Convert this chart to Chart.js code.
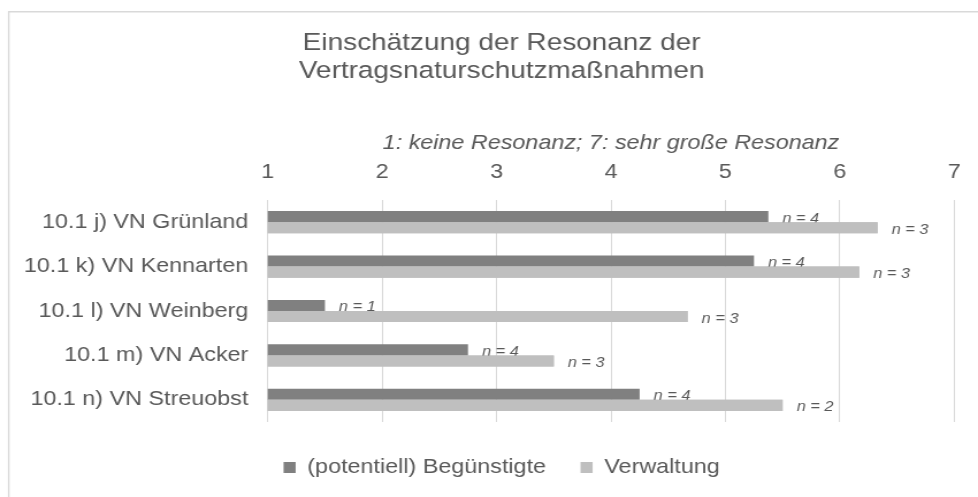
<!DOCTYPE html>
<html>
<head>
<meta charset="utf-8">
<script src="https://cdn.jsdelivr.net/npm/chart.js@4.4.1/dist/chart.umd.min.js"></script>
<style>
html, body { margin: 0; padding: 0; background: #ffffff; overflow: hidden; }
canvas { display: block; }
</style>
</head>
<body>
<!-- the original picture is horizontally stretched; the canvas is drawn narrower and shown at 978px -->
<canvas id="c" width="850" height="497" style="width:978px;height:497px;"></canvas>
<script>
// ---- data ----
const categories = [
  '10.1 j) VN Grünland',
  '10.1 k) VN Kennarten',
  '10.1 l) VN Weinberg',
  '10.1 m) VN Acker',
  '10.1 n) VN Streuobst'
];
const seriesNames = ['(potentiell) Begünstigte', 'Verwaltung'];
const beguenstigte = [5.375, 5.25, 1.5, 2.75, 4.25];
const verwaltung = [6.33, 6.17, 4.67, 3.5, 5.5];
const nBeguenstigte = [4, 4, 1, 4, 4];
const nVerwaltung = [3, 3, 3, 3, 2];
const xTicks = [1, 2, 3, 4, 5, 6, 7];
const titleLines = ['Einschätzung der Resonanz der', 'Vertragsnaturschutzmaßnahmen'];
const axisTitle = '1: keine Resonanz; 7: sehr große Resonanz';

// ---- styling ----
const FONT = '"Liberation Sans", Arial, sans-serif';
const TEXT = '#595959';
const DARK = '#808080';
const LIGHT = '#BFBFBF';
const GRID = '#D9D9D9';

Chart.defaults.font.family = FONT;
Chart.defaults.color = TEXT;

const frame = {
  id: 'frame',
  afterLayout(chart) {
    // let the category labels use the space left of the axis box (no clipping)
    chart.scales.y.left = 0;
  },
  beforeDraw(chart) {
    const ctx = chart.ctx;
    ctx.save();
    ctx.fillStyle = '#ffffff';
    ctx.fillRect(0, 0, chart.width, chart.height);
    ctx.strokeStyle = GRID;
    ctx.lineWidth = 1.4;
    ctx.beginPath();
    ctx.moveTo(7.6, chart.height + 5);
    ctx.lineTo(7.6, 11.75);
    ctx.lineTo(chart.width + 5, 11.75);
    ctx.stroke();
    ctx.restore();
  }
};

const nLabels = {
  id: 'nLabels',
  afterDatasetsDraw(chart) {
    const ctx = chart.ctx;
    const area = chart.chartArea;
    const counts = [nBeguenstigte, nVerwaltung];
    const m0 = chart.getDatasetMeta(0);
    const m1 = chart.getDatasetMeta(1);
    const setFont = () => {
      ctx.font = 'italic 14.2px ' + FONT;
      ctx.fillStyle = TEXT;
      ctx.textAlign = 'left';
      ctx.textBaseline = 'alphabetic';
    };
    ctx.save();
    setFont();
    m0.data.forEach((el, i) => ctx.fillText('n = ' + counts[0][i], el.x + 12.2, el.y + 6));
    // light bars sit on top of the dark bar labels, as in the original
    ctx.save();
    ctx.beginPath();
    ctx.rect(area.left, area.top, area.right - area.left, area.bottom - area.top);
    ctx.clip();
    m1.data.forEach(el => el.draw(ctx));
    ctx.restore();
    setFont();
    m1.data.forEach((el, i) => ctx.fillText('n = ' + counts[1][i], el.x + 12.2, el.y + 6));
    ctx.restore();
  }
};

new Chart(document.getElementById('c'), {
  type: 'bar',
  data: {
    labels: categories,
    datasets: [
      { label: seriesNames[0], data: beguenstigte, backgroundColor: DARK, borderWidth: 0,
        barPercentage: 1, categoryPercentage: 0.5 },
      { label: seriesNames[1], data: verwaltung, backgroundColor: LIGHT, borderWidth: 0,
        barPercentage: 1, categoryPercentage: 0.5 }
    ]
  },
  options: {
    indexAxis: 'y',
    responsive: false,
    animation: false,
    devicePixelRatio: 1,
    layout: { padding: { top: 10, left: 39.8, right: 17.8, bottom: 9.35 } },
    plugins: {
      tooltip: { enabled: false },
      title: {
        display: true,
        text: titleLines,
        color: TEXT,
        font: { family: FONT, size: 24.3, weight: 'normal', lineHeight: 1.173 },
        padding: { top: 18.95, bottom: 20 }
      },
      legend: {
        display: true,
        position: 'bottom',
        title: { display: true, text: '', font: { size: 4, lineHeight: 1 }, padding: { top: 0, bottom: 1.35 } },
        labels: {
          color: TEXT,
          font: { family: FONT, size: 20.3 },
          boxWidth: 10.5,
          boxHeight: 11,
          padding: 30
        }
      }
    },
    scales: {
      x: {
        type: 'linear',
        position: 'top',
        min: 1,
        max: 7,
        afterBuildTicks: (scale) => { scale.ticks = xTicks.map(v => ({ value: v })); },
        ticks: { color: TEXT, font: { family: FONT, size: 20.3, lineHeight: 1.2 }, padding: 15 },
        grid: { color: GRID, lineWidth: 1, drawTicks: false },
        border: { display: false },
        title: {
          display: true,
          text: axisTitle,
          color: TEXT,
          font: { family: FONT, size: 20.3, style: 'italic', lineHeight: 1.2 },
          padding: { top: 25.57, bottom: -10.24 }
        }
      },
      y: {
        type: 'category',
        afterFit: (scale) => { scale.width = 192.9; },
        ticks: { color: TEXT, font: { family: FONT, size: 20.3 }, padding: 16.9 },
        grid: { display: false, drawTicks: false },
        border: { display: false }
      }
    }
  },
  plugins: [frame, nLabels]
});
</script>
</body>
</html>
